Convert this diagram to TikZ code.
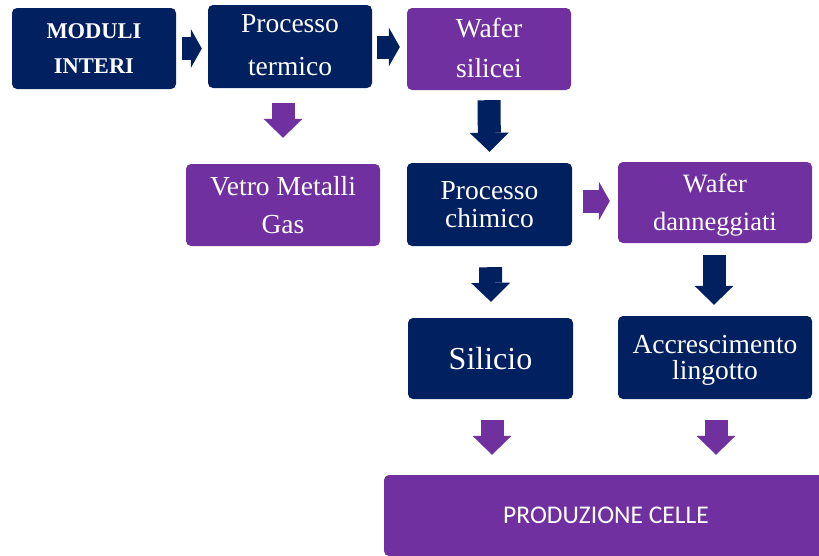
\documentclass[tikz,border=0pt]{standalone}
\usepackage{fontspec}
\setmainfont{Liberation Serif}
\newfontfamily\calibrifont{Carlito}
\usetikzlibrary{calc, arrows.meta}
\definecolor{navy}{HTML}{002060}
\definecolor{viola}{HTML}{7030A0}

\begin{document}
\begin{tikzpicture}[x=1pt, y=1pt,
                box/.style={rounded corners=5pt, text=white, inner sep=0pt, align=center, text depth=0pt},
                navybox/.style={box, fill=navy},
                violabox/.style={box, fill=viola},
                downarrow/.style={line width=23pt, -{Triangle[length=19pt, width=39pt, line width=0pt]}},
                sidearrow/.style={line width=23pt, -{Triangle[length=11pt, width=39pt, line width=0pt]}}]
                \clip (0,0) rectangle (819,-555);
                \fill[white] (0,0) rectangle (819,-555);
                \node[navybox, minimum width=164pt, minimum height=81pt, font=\bfseries\fontsize{22.5}{34.5}\selectfont] (moduli) at (94,-48.5) {MODULI\\INTERI};
                \node[navybox, minimum width=164pt, minimum height=83pt, text depth=3pt, font=\fontsize{27.5}{43}\selectfont] (termico) at (290,-46.5) {Processo\\termico};
                \node[violabox, minimum width=164pt, minimum height=82pt, text depth=2pt, font=\fontsize{27.5}{40}\selectfont] (wafer) at (489,-49) {Wafer\\silicei};
                \node[violabox, minimum width=194pt, minimum height=82pt, text depth=1pt, font=\fontsize{27.5}{38}\selectfont] (vetro) at (283,-205) {Vetro Metalli\\Gas};
                \node[navybox, minimum width=165pt, minimum height=83pt, font=\fontsize{27.5}{28}\selectfont] (chimico) at (489.5,-204.5) {Processo\\chimico};
                \node[violabox, minimum width=194pt, minimum height=81pt, font=\fontsize{26.5}{38}\selectfont] (danneggiati) at (715,-202.5) {Wafer\\danneggiati};
                \node[navybox, minimum width=165pt, minimum height=81pt, font=\fontsize{32}{38}\selectfont] (silicio) at (490.5,-358.5) {Silicio};
                \node[navybox, minimum width=194pt, minimum height=83pt, font=\fontsize{27.5}{26}\selectfont] (lingotto) at (715,-357.5) {Accrescimento\\lingotto};
                \node[violabox, minimum width=444pt, minimum height=81pt, font=\calibrifont\fontsize{25.5}{30}\selectfont] (celle) at (606,-515.5) {PRODUZIONE CELLE};

                \draw[sidearrow, navy] ($(moduli.east)+(6,0)$) -- ($(termico.west |- moduli.east)+(-6,0)$);
                \draw[sidearrow, navy] ($(termico.east)+(5,-0.5)$) -- ($(wafer.west |- termico.east)+(-7,-0.5)$);
                \draw[downarrow, viola] ($(termico.south -| vetro.north)+(0,-15)$) -- ($(vetro.north)+(0,26)$);
                \draw[downarrow, navy] ($(wafer.south)+(0,-10)$) -- ($(chimico.north)+(0,11)$);
                \draw[sidearrow, viola] ($(chimico.east)+(11,3.5)$) -- ($(danneggiati.west |- chimico.east)+(-8,3.5)$);
                \draw[downarrow, navy] ($(chimico.south)+(1,-21)$) -- ($(silicio.north)+(0.5,16)$);
                \draw[downarrow, navy] ($(danneggiati.south)+(-1,-12)$) -- ($(lingotto.north)+(-1,11)$);
                \draw[downarrow, viola] ($(silicio.south)+(1.5,-21)$) -- ($(silicio.south |- celle.north)+(1.5,20)$);
                \draw[downarrow, viola] ($(lingotto.south)+(1,-21)$) -- ($(lingotto.south |- celle.north)+(1,20)$);
            \end{tikzpicture}
\end{document}
